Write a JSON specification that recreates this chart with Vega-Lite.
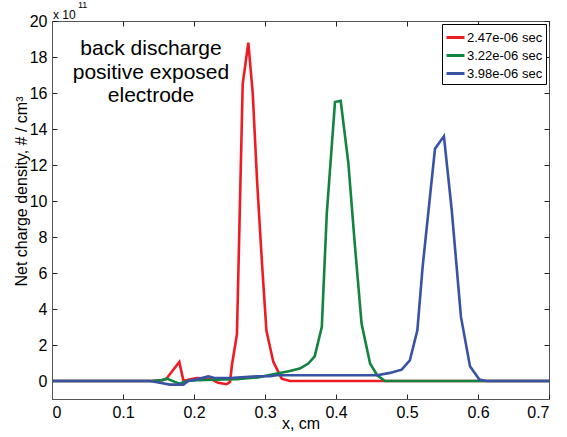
{
  "$schema": "https://vega.github.io/schema/vega-lite/v6.json",
  "width": 497,
  "height": 378,
  "autosize": "none",
  "padding": {"left": 52, "top": 21, "right": 18, "bottom": 38},
  "background": "white",
  "config": {
    "font": "Liberation Sans",
    "view": {"stroke": "#555555", "strokeWidth": 1},
    "axis": {"grid": false, "domainColor": "#555555", "tickColor": "#222222", "tickWidth": 1, "labelColor": "black", "titleColor": "black", "labelFont": "Liberation Sans", "titleFont": "Liberation Sans", "titleFontWeight": "normal", "labelFontSize": 16, "titleFontSize": 16}
  },
  "data": {
    "values": [
      {"x": 0, "y": 0, "s": "2.47e-06 sec"},
      {"x": 0.05, "y": 0, "s": "2.47e-06 sec"},
      {"x": 0.1, "y": 0, "s": "2.47e-06 sec"},
      {"x": 0.14, "y": 0, "s": "2.47e-06 sec"},
      {"x": 0.155, "y": 0.05, "s": "2.47e-06 sec"},
      {"x": 0.1606, "y": 0.1, "s": "2.47e-06 sec"},
      {"x": 0.1793, "y": 1.06, "s": "2.47e-06 sec"},
      {"x": 0.185, "y": 0.04, "s": "2.47e-06 sec"},
      {"x": 0.19, "y": 0.05, "s": "2.47e-06 sec"},
      {"x": 0.204, "y": 0.17, "s": "2.47e-06 sec"},
      {"x": 0.2225, "y": 0.13, "s": "2.47e-06 sec"},
      {"x": 0.234, "y": -0.1, "s": "2.47e-06 sec"},
      {"x": 0.246, "y": -0.18, "s": "2.47e-06 sec"},
      {"x": 0.2507, "y": -0.05, "s": "2.47e-06 sec"},
      {"x": 0.2535, "y": 0.9, "s": "2.47e-06 sec"},
      {"x": 0.2605, "y": 2.6, "s": "2.47e-06 sec"},
      {"x": 0.2686, "y": 16.5, "s": "2.47e-06 sec"},
      {"x": 0.2765, "y": 18.8, "s": "2.47e-06 sec"},
      {"x": 0.2827, "y": 16.0, "s": "2.47e-06 sec"},
      {"x": 0.289, "y": 11.0, "s": "2.47e-06 sec"},
      {"x": 0.296, "y": 6.4, "s": "2.47e-06 sec"},
      {"x": 0.302, "y": 2.8, "s": "2.47e-06 sec"},
      {"x": 0.3117, "y": 1.06, "s": "2.47e-06 sec"},
      {"x": 0.3235, "y": 0.13, "s": "2.47e-06 sec"},
      {"x": 0.335, "y": 0, "s": "2.47e-06 sec"},
      {"x": 0.4, "y": 0, "s": "2.47e-06 sec"},
      {"x": 0.5, "y": 0, "s": "2.47e-06 sec"},
      {"x": 0.6, "y": 0, "s": "2.47e-06 sec"},
      {"x": 0.7, "y": 0, "s": "2.47e-06 sec"},

      {"x": 0, "y": 0, "s": "3.22e-06 sec"},
      {"x": 0.14, "y": 0, "s": "3.22e-06 sec"},
      {"x": 0.155, "y": 0.05, "s": "3.22e-06 sec"},
      {"x": 0.1615, "y": 0.13, "s": "3.22e-06 sec"},
      {"x": 0.1793, "y": -0.15, "s": "3.22e-06 sec"},
      {"x": 0.19, "y": 0, "s": "3.22e-06 sec"},
      {"x": 0.204, "y": 0.05, "s": "3.22e-06 sec"},
      {"x": 0.227, "y": 0.07, "s": "3.22e-06 sec"},
      {"x": 0.26, "y": 0.1, "s": "3.22e-06 sec"},
      {"x": 0.29, "y": 0.2, "s": "3.22e-06 sec"},
      {"x": 0.3117, "y": 0.37, "s": "3.22e-06 sec"},
      {"x": 0.335, "y": 0.56, "s": "3.22e-06 sec"},
      {"x": 0.349, "y": 0.69, "s": "3.22e-06 sec"},
      {"x": 0.361, "y": 0.97, "s": "3.22e-06 sec"},
      {"x": 0.37, "y": 1.37, "s": "3.22e-06 sec"},
      {"x": 0.38, "y": 3.0, "s": "3.22e-06 sec"},
      {"x": 0.387, "y": 9.3, "s": "3.22e-06 sec"},
      {"x": 0.3986, "y": 15.5, "s": "3.22e-06 sec"},
      {"x": 0.4066, "y": 15.57, "s": "3.22e-06 sec"},
      {"x": 0.4174, "y": 12.1, "s": "3.22e-06 sec"},
      {"x": 0.4268, "y": 7.45, "s": "3.22e-06 sec"},
      {"x": 0.436, "y": 3.19, "s": "3.22e-06 sec"},
      {"x": 0.448, "y": 0.97, "s": "3.22e-06 sec"},
      {"x": 0.458, "y": 0.32, "s": "3.22e-06 sec"},
      {"x": 0.469, "y": 0, "s": "3.22e-06 sec"},
      {"x": 0.55, "y": 0, "s": "3.22e-06 sec"},
      {"x": 0.7, "y": 0, "s": "3.22e-06 sec"},

      {"x": 0, "y": 0, "s": "3.98e-06 sec"},
      {"x": 0.138, "y": 0, "s": "3.98e-06 sec"},
      {"x": 0.152, "y": -0.1, "s": "3.98e-06 sec"},
      {"x": 0.166, "y": -0.2, "s": "3.98e-06 sec"},
      {"x": 0.185, "y": -0.2, "s": "3.98e-06 sec"},
      {"x": 0.192, "y": 0, "s": "3.98e-06 sec"},
      {"x": 0.204, "y": 0.09, "s": "3.98e-06 sec"},
      {"x": 0.22, "y": 0.26, "s": "3.98e-06 sec"},
      {"x": 0.228, "y": 0.18, "s": "3.98e-06 sec"},
      {"x": 0.2507, "y": 0.17, "s": "3.98e-06 sec"},
      {"x": 0.288, "y": 0.26, "s": "3.98e-06 sec"},
      {"x": 0.307, "y": 0.26, "s": "3.98e-06 sec"},
      {"x": 0.3164, "y": 0.32, "s": "3.98e-06 sec"},
      {"x": 0.361, "y": 0.32, "s": "3.98e-06 sec"},
      {"x": 0.4577, "y": 0.32, "s": "3.98e-06 sec"},
      {"x": 0.476, "y": 0.45, "s": "3.98e-06 sec"},
      {"x": 0.4925, "y": 0.63, "s": "3.98e-06 sec"},
      {"x": 0.504, "y": 1.15, "s": "3.98e-06 sec"},
      {"x": 0.5146, "y": 2.82, "s": "3.98e-06 sec"},
      {"x": 0.522, "y": 6.34, "s": "3.98e-06 sec"},
      {"x": 0.5394, "y": 12.9, "s": "3.98e-06 sec"},
      {"x": 0.552, "y": 13.6, "s": "3.98e-06 sec"},
      {"x": 0.563, "y": 9.5, "s": "3.98e-06 sec"},
      {"x": 0.576, "y": 3.56, "s": "3.98e-06 sec"},
      {"x": 0.5887, "y": 0.82, "s": "3.98e-06 sec"},
      {"x": 0.6019, "y": 0.08, "s": "3.98e-06 sec"},
      {"x": 0.612, "y": 0, "s": "3.98e-06 sec"},
      {"x": 0.7, "y": 0, "s": "3.98e-06 sec"}
    ]
  },
  "resolve": {"axis": {"x": "independent", "y": "independent"}},
  "layer": [
    {
      "mark": {"type": "point", "opacity": 0},
      "encoding": {
        "x": {"field": "x", "type": "quantitative", "scale": {"domain": [0, 0.7], "nice": false, "zero": false},
          "axis": {"orient": "top", "values": [0, 0.1, 0.2, 0.3, 0.4, 0.5, 0.6, 0.7], "labels": false, "title": null, "domain": false, "tickSize": -5}},
        "y": {"field": "y", "type": "quantitative", "scale": {"domain": [-1, 20], "nice": false, "zero": false},
          "axis": {"orient": "right", "values": [0, 2, 4, 6, 8, 10, 12, 14, 16, 18, 20], "labels": false, "title": null, "domain": false, "tickSize": -5}}
      }
    },
    {
      "mark": {"type": "line", "strokeWidth": 2.6, "clip": true},
      "encoding": {
        "x": {"field": "x", "type": "quantitative", "scale": {"domain": [0, 0.7], "nice": false, "zero": false},
          "axis": {"orient": "bottom", "values": [0, 0.1, 0.2, 0.3, 0.4, 0.5, 0.6, 0.7], "format": "~g", "title": "x, cm", "tickSize": -5, "labelPadding": 10, "titlePadding": -5}},
        "y": {"field": "y", "type": "quantitative", "scale": {"domain": [-1, 20], "nice": false, "zero": false},
          "axis": {"orient": "left", "values": [0, 2, 4, 6, 8, 10, 12, 14, 16, 18, 20], "format": "d", "title": "Net charge density, # / cm³", "tickSize": -5, "labelPadding": 10, "titleX": -31, "titleY": 170, "titleBaseline": "middle", "titleAlign": "center", "titleAngle": -90}},
        "color": {"field": "s", "type": "nominal",
          "scale": {"domain": ["2.47e-06 sec", "3.22e-06 sec", "3.98e-06 sec"], "range": ["#ed1c24", "#13843f", "#3953a4"]},
          "legend": {"orient": "top-right", "offset": 3, "title": null, "strokeColor": "black", "fillColor": "white", "padding": 3, "cornerRadius": 0, "labelFontSize": 13, "labelFont": "Liberation Sans", "labelColor": "black", "labelOffset": 1, "symbolType": "stroke", "symbolSize": 324, "symbolStrokeWidth": 3, "rowPadding": -1}}
      }
    },
    {
      "data": {"values": [{}]},
      "mark": {"type": "text", "font": "Liberation Sans", "fontSize": 21, "align": "center", "baseline": "alphabetic", "lineHeight": 23.5, "color": "black"},
      "encoding": {
        "x": {"datum": 0.1394, "type": "quantitative", "axis": null},
        "y": {"datum": 18.11, "type": "quantitative", "axis": null},
        "text": {"value": ["back discharge", "positive exposed", "electrode"]}
      }
    },
    {
      "data": {"values": [{}]},
      "mark": {"type": "text", "font": "Liberation Sans", "fontSize": 12, "align": "left", "baseline": "alphabetic", "dx": 1, "dy": -2.5, "color": "black"},
      "encoding": {
        "x": {"datum": 0, "type": "quantitative", "axis": null},
        "y": {"datum": 20, "type": "quantitative", "axis": null},
        "text": {"value": "x 10"}
      }
    },
    {
      "data": {"values": [{}]},
      "mark": {"type": "text", "font": "Liberation Sans", "fontSize": 9, "align": "left", "baseline": "alphabetic", "dx": 26, "dy": -13.5, "color": "black"},
      "encoding": {
        "x": {"datum": 0, "type": "quantitative", "axis": null},
        "y": {"datum": 20, "type": "quantitative", "axis": null},
        "text": {"value": "11"}
      }
    }
  ]
}
